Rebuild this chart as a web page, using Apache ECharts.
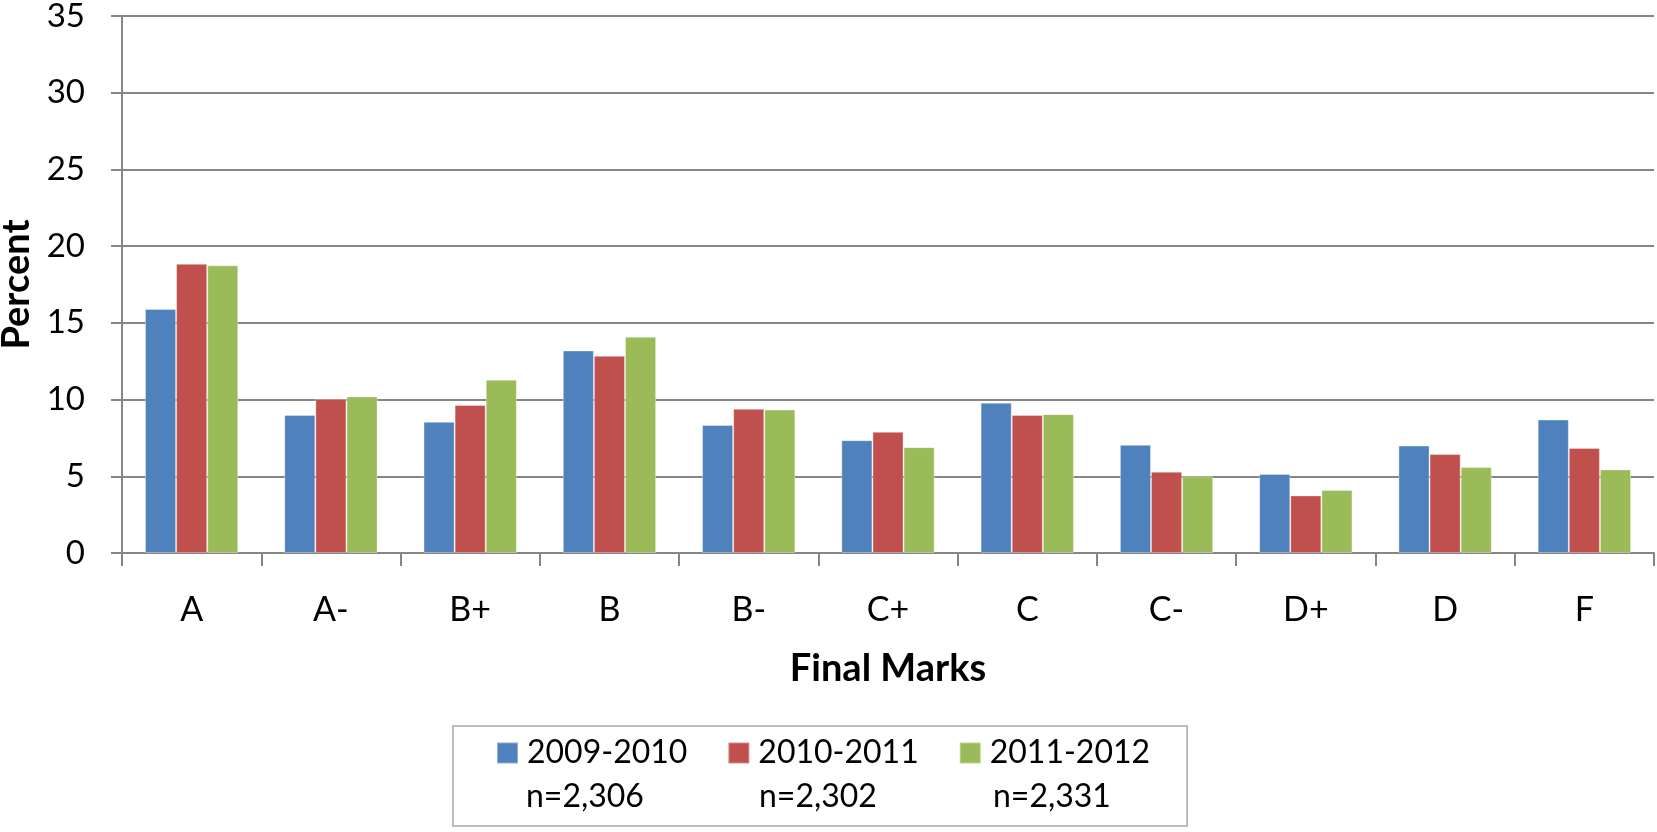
<!DOCTYPE html>
<html>
<head>
<meta charset="utf-8">
<script src="https://cdn.jsdelivr.net/npm/echarts@6/dist/echarts.min.js"></script>
<style>
  html, body { margin: 0; padding: 0; background: #fff; }
  #chart { width: 1657px; height: 832px; }
</style>
</head>
<body>
<div id="chart"></div>
<script>
// 数据
const marks = ["A", "A-", "B+", "B", "B-", "C+", "C", "C-", "D+", "D", "F"];
const years = ["2009-2010", "2010-2011", "2011-2012"];
const sampleSizes = ["n=2,306", "n=2,302", "n=2,331"];
const pct0910 = [15.9, 9.0, 8.55, 13.2, 8.35, 7.35, 9.8, 7.05, 5.15, 7.0, 8.7];
const pct1011 = [18.85, 10.05, 9.65, 12.85, 9.4, 7.9, 9.0, 5.3, 3.75, 6.45, 6.85];
const pct1112 = [18.75, 10.2, 11.3, 14.1, 9.35, 6.9, 9.05, 5.0, 4.1, 5.6, 5.45];
const yTicks = [0, 5, 10, 15, 20, 25, 30, 35];

const colors = ["#4F81BD", "#C0504D", "#9BBB59"];
const font = "Lato, 'Open Sans', sans-serif";
const gridColor = "#868686";

const chart = echarts.init(document.getElementById("chart"));

const seriesData = [pct0910, pct1011, pct1112];

// n= 行放在图例下面
const nLabelX = [526, 759, 993];

chart.setOption({
  animation: false,
  color: colors,
  textStyle: { fontFamily: font, color: "#000" },
  grid: { left: 122, right: 3, top: 16, bottom: 279, outerBoundsMode: "none", containLabel: false },
  xAxis: {
    type: "category",
    data: marks,
    name: "Final Marks",
    nameLocation: "middle",
    nameGap: 97,
    nameTextStyle: { fontSize: 38, fontWeight: "bold", color: "#000", fontFamily: font },
    axisLine: { show: true, lineStyle: { color: gridColor, width: 2 } },
    axisTick: { show: true, length: 13, lineStyle: { color: gridColor, width: 2 } },
    axisLabel: { fontSize: 34, color: "#000", margin: 40, fontFamily: font },
  },
  yAxis: {
    type: "value",
    min: yTicks[0],
    max: yTicks[yTicks.length - 1],
    interval: 5,
    name: "Percent",
    nameLocation: "middle",
    nameRotate: 90,
    nameGap: 84,
    nameTextStyle: { fontSize: 38, fontWeight: "bold", color: "#000", fontFamily: font },
    axisLine: { show: true, lineStyle: { color: gridColor, width: 2 } },
    axisTick: { show: true, length: 11, lineStyle: { color: gridColor, width: 2 } },
    axisLabel: { fontSize: 33, color: "#000", margin: 37, fontFamily: font },
    splitLine: { show: true, lineStyle: { color: gridColor, width: 2 } },
  },
  legend: {
    data: years,
    left: 453,
    top: 726,
    orient: "horizontal",
    padding: [11, 37, 57, 43],
    itemWidth: 21,
    itemHeight: 21,
    itemGap: 40,
    icon: "rect",
    borderColor: "#a6a6a6",
    borderWidth: 1.5,
    textStyle: { fontSize: 32, color: "#000", fontFamily: font, padding: [0, 0, 0, 4] },
  },
  graphic: sampleSizes.map((s, i) => ({
    type: "text",
    left: nLabelX[i],
    top: 781,
    style: { text: s, fontSize: 32, fill: "#000", fontFamily: font },
  })),
  series: years.map((y, i) => ({
    name: y,
    type: "bar",
    data: seriesData[i],
    barGap: "0%",
    barCategoryGap: "33%",
    itemStyle: { color: colors[i], borderColor: "rgba(255,255,255,0.35)", borderWidth: 1 },
  })),
});
</script>
</body>
</html>
